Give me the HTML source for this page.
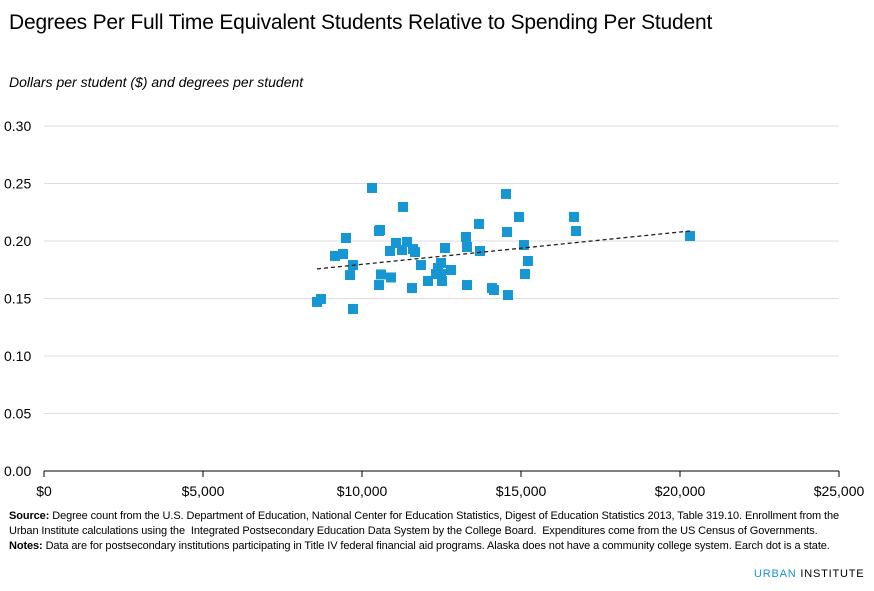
<!DOCTYPE html>
<html><head><meta charset="utf-8"><style>
body{margin:0;background:#fff;font-family:"Liberation Sans",sans-serif;}
#wrap{position:relative;width:874px;height:591px;overflow:hidden;}
.t{position:absolute;white-space:nowrap;color:#000;}
</style></head><body>
<div id="wrap">
<div class="t" style="left:9px;top:11px;font-size:21px;letter-spacing:-0.2px;">Degrees Per Full Time Equivalent Students Relative to Spending Per Student</div>
<div class="t" style="left:9px;top:74px;font-size:14px;font-style:italic;">Dollars per student ($) and degrees per student</div>
<svg id="plot" width="874" height="591" style="position:absolute;left:0;top:0"></svg>
<div class="t" style="left:9px;top:509px;font-size:11px;line-height:15px;letter-spacing:-0.1px;"><b>Source:</b> Degree count from the U.S. Department of Education, National Center for Education Statistics, Digest of Education Statistics 2013, Table 319.10. Enrollment from the<br>Urban Institute calculations using the &nbsp;Integrated Postsecondary Education Data System by the College Board. &nbsp;Expenditures come from the US Census of Governments.<br><b>Notes:</b> Data are for postsecondary institutions participating in Title IV federal financial aid programs. Alaska does not have a community college system. Earch dot is a state.</div>
<div class="t" style="left:754px;top:568px;font-size:11px;letter-spacing:0.8px;"><span style="color:#1696d2">URBAN</span> INSTITUTE</div>
</div>
<script>
const xTicks=[0,5000,10000,15000,20000,25000];
const xTickLabels=["$0","$5,000","$10,000","$15,000","$20,000","$25,000"];
const yTicks=[0,0.05,0.10,0.15,0.20,0.25,0.30];
const yTickLabels=["0.00","0.05","0.10","0.15","0.20","0.25","0.30"];
const spending=[10314,11289,14528,14937,13679,14559,10566,10535,9497,13270,11069,11415,11604,11667,10880,11258,12610,13302,13711,15093,9151,9403,9717,9623,11855,12484,12390,15219,10597,10912,12799,12327,12484,12075,12516,15125,10535,11572,13302,14087,14150,14591,8585,8711,9717,16667,16730,20315];
const degrees=[0.2461,0.2296,0.2409,0.2209,0.2148,0.2078,0.2096,0.2087,0.2026,0.2035,0.1983,0.1992,0.1930,0.1904,0.1913,0.1922,0.1939,0.1948,0.1913,0.1965,0.1870,0.1887,0.1791,0.1704,0.1791,0.1809,0.1765,0.1826,0.1709,0.1683,0.1748,0.1713,0.1713,0.1652,0.1652,0.1713,0.1617,0.1591,0.1617,0.1591,0.1574,0.1530,0.1470,0.1496,0.1409,0.2209,0.2087,0.2043];
const trendX=[8585,20315];
const trendY=[0.1757,0.2087];
const NS="http://www.w3.org/2000/svg";
const svg=document.getElementById('plot');
const X=v=>44+v/25000*795;
const Y=v=>471-v/0.30*345;
function mk(tag,attrs){const e=document.createElementNS(NS,tag);for(const k in attrs)e.setAttribute(k,attrs[k]);svg.appendChild(e);return e;}
yTicks.forEach((t,i)=>{
  if(i>0){const g=mk('line',{x1:44,x2:839,y1:Y(t),y2:Y(t),stroke:'#dedede','stroke-width':1});
  
  }
  const l=mk('text',{x:4,y:Y(t)+5,'font-size':14,'font-family':'Liberation Sans, sans-serif',fill:'#000'});
  l.textContent=yTickLabels[i];
  
  
});
const ax=mk('line',{x1:44,x2:839,y1:471,y2:471,stroke:'#000','stroke-width':1});


xTicks.forEach((t,i)=>{
  const tk=mk('line',{x1:X(t),x2:X(t),y1:471,y2:477,stroke:'#000','stroke-width':1});
  
  
  const l=mk('text',{x:X(t),y:496,'font-size':14,'text-anchor':'middle','font-family':'Liberation Sans, sans-serif',fill:'#000'});
  l.textContent=xTickLabels[i];
  
  
});
spending.forEach((s,i)=>{
  const r=mk('rect',{x:X(s)-5,y:Y(degrees[i])-5,width:10,height:10,fill:'#1696d2'});
  
  
});
const tl=mk('line',{x1:X(trendX[0]),y1:Y(trendY[0]),x2:X(trendX[1]),y2:Y(trendY[1]),stroke:'#222','stroke-width':1.3,'stroke-dasharray':'4,3'});


</script>
</body></html>
